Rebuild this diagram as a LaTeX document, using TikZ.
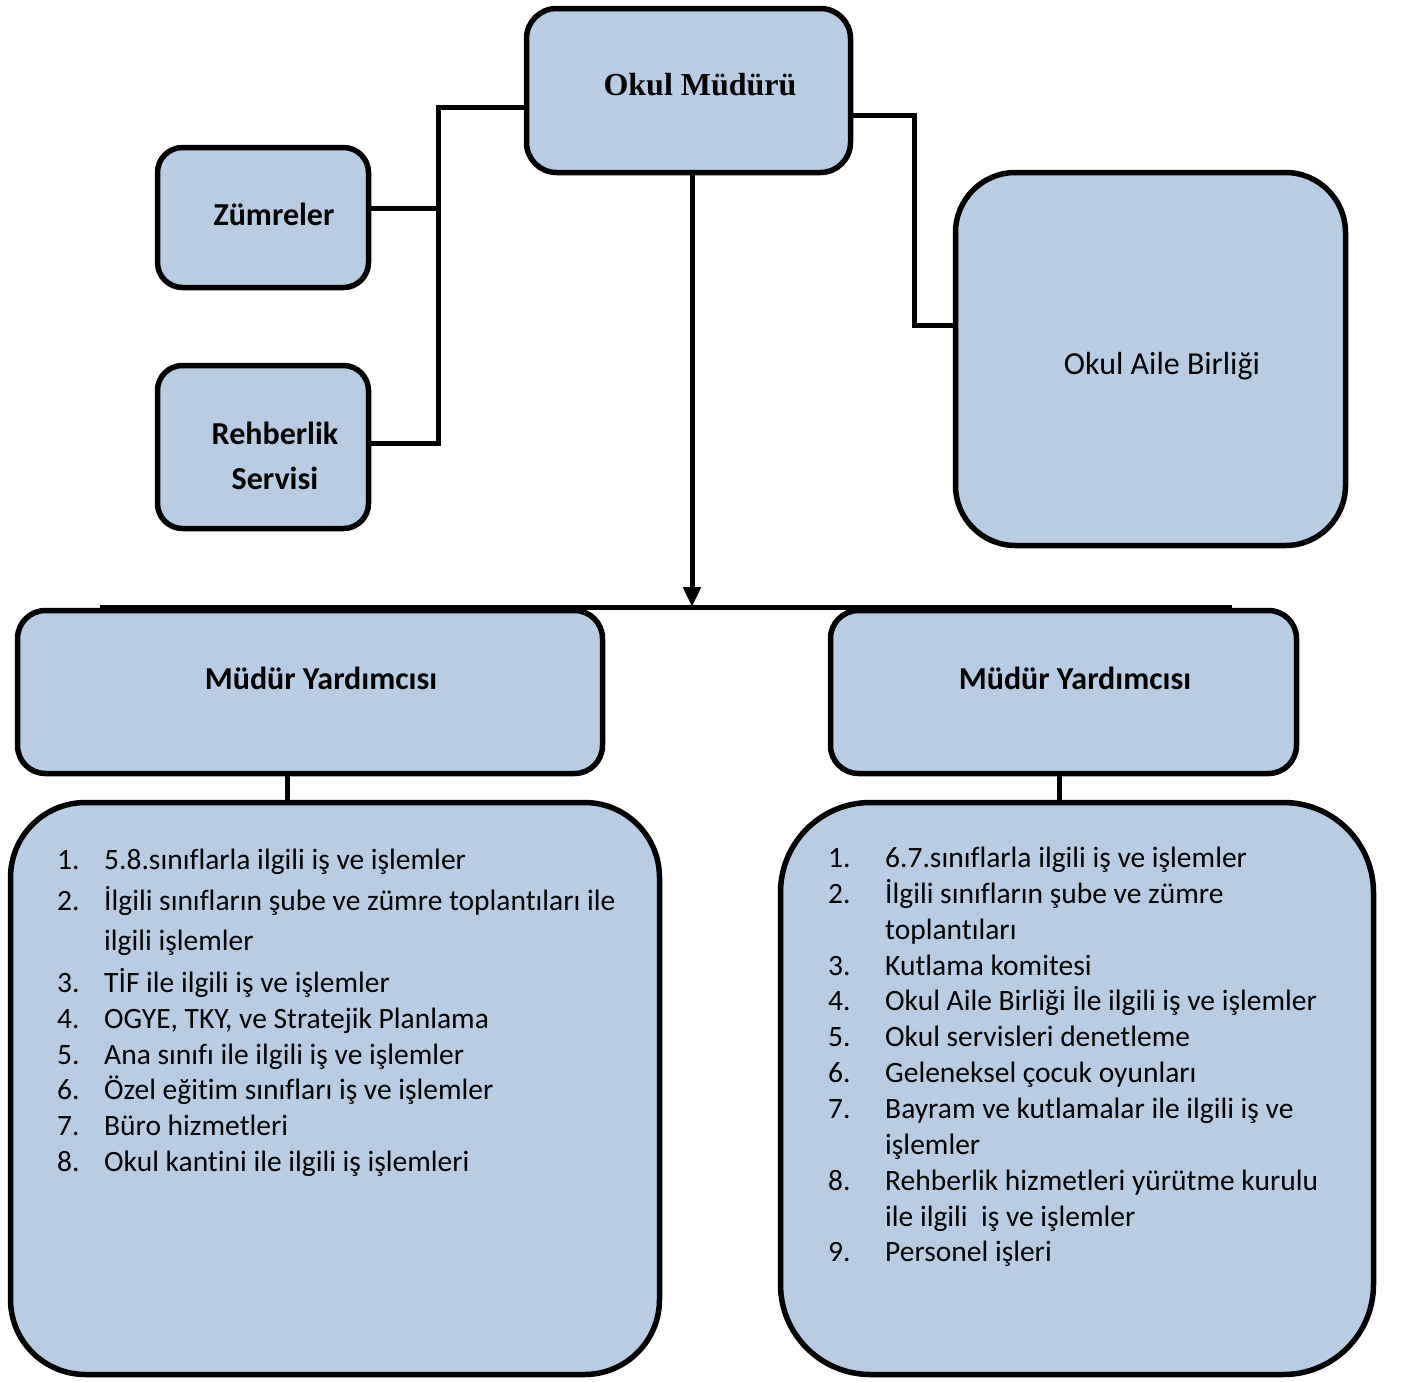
\documentclass[tikz,border=0pt]{standalone}
\usepackage{fontspec}
\setmainfont[Ligatures={NoCommon}]{Carlito}
\newfontfamily\serifbf{Liberation Serif}
\usetikzlibrary{arrows.meta}
\definecolor{boxblue}{RGB}{184,204,228}
\begin{document}
\begin{tikzpicture}[x=1pt,y=-1pt,
  box/.style={draw=black, fill=boxblue, line width=5.5pt, inner sep=0pt},
  conn/.style={line width=5pt},
  head/.style={font=\fontsize{32}{38}\selectfont\bfseries, anchor=base, inner sep=0pt},
  item/.style={font=\fontsize{29.5}{35}\selectfont, anchor=base west, inner sep=0pt}]
\useasboundingbox (0,0) rectangle (1401,1382);

% boxes
\node[box, rounded corners=30pt, minimum width=324pt, minimum height=164pt] (mudur) at (688.5,90.5) {};
\node[box, rounded corners=25pt, minimum width=211pt, minimum height=140pt] (zum) at (263,217.5) {};
\node[box, rounded corners=25pt, minimum width=211pt, minimum height=163pt] (reh) at (263,447) {};
\node[box, rounded corners=60pt, minimum width=390pt, minimum height=373pt] (oab) at (1150.5,359) {};
\node[box, rounded corners=28pt, minimum width=585pt, minimum height=163pt] (my1) at (310,692) {};
\node[box, rounded corners=28pt, minimum width=466pt, minimum height=163pt] (my2) at (1063.5,692) {};
\node[box, rounded corners=75pt, minimum width=649pt, minimum height=572pt] (list1) at (335,1088.5) {};
\node[box, rounded corners=90pt, minimum width=593pt, minimum height=572pt] (list2) at (1077,1088.5) {};

% connectors
\coordinate (jl) at (438,107);
\coordinate (jr) at (914,115);
\coordinate (hl) at (100,607);
\coordinate (hr) at (1232,607);
\coordinate (tip) at (692,607);
\draw[conn] (mudur.west |- jl) -- (jl) |- ([yshift=4pt]reh.east);
\draw[conn] ([yshift=9.5pt]zum.east) -- ([yshift=9.5pt]zum.east -| jl);
\draw[conn] (mudur.east |- jr) -- (jr) |- ([yshift=34pt]oab.west);
\draw[conn] (hl) -- (hr);
\draw[conn, -{Triangle[length=20pt,width=17pt]}] (mudur.south -| tip) -- (tip);
\draw[conn] ([xshift=-23pt]my1.south) -- ([xshift=-23pt]my1.south |- list1.north);
\draw[conn] ([xshift=-4.5pt]my2.south) -- ([xshift=-4.5pt]my2.south |- list2.north);

% texts
\node[head, font=\fontsize{32}{38}\selectfont\serifbf\bfseries] (tmudur) at (700,95) {Okul Müdürü};
\node[head] (tzum) at (274,225) {Zümreler};
\node[head] (treh1) at (275,444) {Rehberlik};
\node[head] (treh2) at (275,489) {Servisi};
\node[head, font=\fontsize{32}{38}\selectfont] (toab) at (1162,374) {Okul Aile Birliği};
\node[head] (tmy1) at (321,689) {Müdür Yardımcısı};
\node[head] (tmy2) at (1075,689) {Müdür Yardımcısı};

\foreach \y/\n/\t [count=\k] in {
  869/1./{5.8.sınıflarla ilgili iş ve işlemler},
  910/2./{İlgili sınıfların şube ve zümre toplantıları ile},
  950/{}/{ilgili işlemler},
  992/3./{TİF ile ilgili iş ve işlemler},
  1028/4./{OGYE, TKY, ve Stratejik Planlama},
  1064/5./{Ana sınıfı ile ilgili iş ve işlemler},
  1099/6./{Özel eğitim sınıfları iş ve işlemler},
  1135/7./{Büro hizmetleri},
  1171/8./{Okul kantini ile ilgili iş işlemleri}}{
  \node[item] (ln\k) at (57,\y) {\n};
  \node[item] (lt\k) at (104,\y) {\t};
}

\foreach \y/\n/\t [count=\k] in {
  867/1./{6.7.sınıflarla ilgili iş ve işlemler},
  903/2./{İlgili sınıfların şube ve zümre},
  939/{}/{toplantıları},
  975/3./{Kutlama komitesi},
  1010/4./{Okul Aile Birliği İle ilgili iş ve işlemler},
  1046/5./{Okul servisleri denetleme},
  1082/6./{Geleneksel çocuk oyunları},
  1118/7./{Bayram ve kutlamalar ile ilgili iş ve},
  1154/{}/{işlemler},
  1190/8./{Rehberlik hizmetleri yürütme kurulu},
  1226/{}/{ile ilgili\ \ iş ve işlemler},
  1261/9./{Personel işleri}}{
  \node[item] (rn\k) at (828,\y) {\n};
  \node[item] (rt\k) at (885,\y) {\t};
}
\end{tikzpicture}
\end{document}
